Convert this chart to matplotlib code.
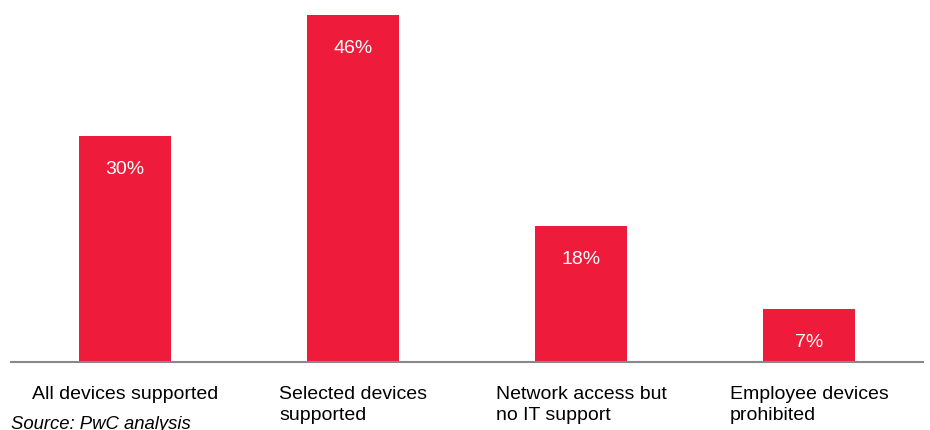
import matplotlib
matplotlib.use("Agg")
import matplotlib.pyplot as plt

categories = ["All devices supported", "Selected devices\nsupported",
              "Network access but\nno IT support", "Employee devices\nprohibited"]
values = [30, 46, 18, 7]
value_labels = ["30%", "46%", "18%", "7%"]
source = "Source: PwC analysis"

plt.rcParams['font.family'] = ['Liberation Sans', 'DejaVu Sans']

W, H = 930, 431
fig = plt.figure(figsize=(W / 100, H / 100), dpi=100)
ax = fig.add_axes([11 / W, (H - 363) / H, (923 - 11) / W, 363 / H])
ax.set_xlim(-0.5, 3.5)
ax.set_ylim(0, 46 * 363 / (363 - 16))

red = "#EE1C3A"
x = list(range(len(values)))
bars = ax.bar(x, values, width=0.4, color=red, zorder=2)

for b, lab in zip(bars, value_labels):
    ax.annotate(lab, (b.get_x() + b.get_width() / 2, b.get_height()),
                xytext=(0, -23.5), textcoords="offset points",
                ha="center", va="center", color="white", fontsize=14)

for s in ["top", "right", "left"]:
    ax.spines[s].set_visible(False)
ax.spines["bottom"].set_color("#888888")
ax.spines["bottom"].set_linewidth(1.5)
ax.set_yticks([])
ax.set_xticks([])
ax.patch.set_alpha(0)

for xi, cat in zip(x, categories):
    ax.annotate(cat, (xi, 0), xytext=(0, -16.5), textcoords="offset points",
                ha="center", va="top", ma="left", fontsize=14,
                linespacing=1.3, color="black", annotation_clip=False)

fig.text(11 / W, 15 / H, source, ha="left", va="top", fontsize=13.3,
         style="italic", color="black")

fig.savefig("out.png", dpi=100)
